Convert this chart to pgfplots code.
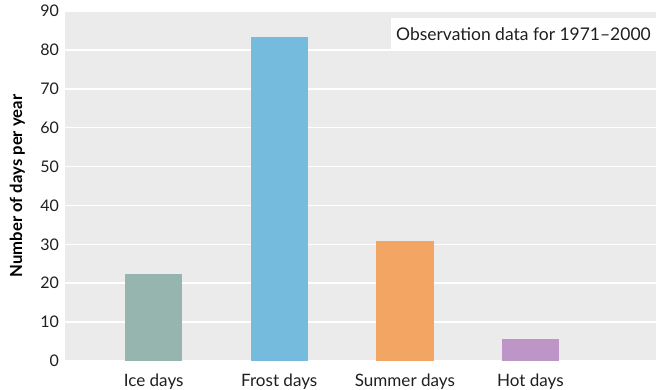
\documentclass[border=0pt]{standalone}
\usepackage{pgfplots}
\pgfplotsset{compat=1.18}
\usepackage{fontspec}
\setmainfont{Lato}
\definecolor{bgray}{HTML}{EBEBEB}
\definecolor{iceC}{HTML}{97B5AF}
\definecolor{frostC}{HTML}{74BBDD}
\definecolor{summerC}{HTML}{F3A663}
\definecolor{hotC}{HTML}{BD95C7}
\begin{document}
\begin{tikzpicture}
\begin{axis}[
  name=ax,
  scale only axis,
  width=443.25pt, height=262.5pt,
  xmin=-0.706, xmax=4.0,
  ymin=0, ymax=90,
  ytick={0,10,...,90},
  xtick={0,1,2,3},
  xticklabels={Ice days, Frost days, Summer days, Hot days},
  axis background/.style={fill=bgray},
  axis line style={draw=none},
  tick style={draw=none},
  ymajorgrids,
  grid style={white, line width=1.1pt},
  /pgf/number format/assume math mode=true,
  yticklabel style={font=\fontsize{12}{14}\selectfont, text=black!88, xshift=-1pt},
  xticklabel style={font=\fontsize{12.8}{15}\selectfont, text=black!88, yshift=-2pt},
  bar width=43pt,
  ybar, bar shift=0pt,
]
\addplot[draw=none, fill=iceC] coordinates {(0,22.3)};
\addplot[draw=none, fill=frostC] coordinates {(1,83.2)};
\addplot[draw=none, fill=summerC] coordinates {(2,30.8)};
\addplot[draw=none, fill=hotC] coordinates {(3,5.65)};
\node[fill=white, anchor=north east, inner xsep=3.75pt, minimum height=24pt,
  font=\fontsize{13.1}{15}\selectfont, text=black!88] at (rel axis cs:1,1) [yshift=-5.25pt] {Observation data for 1971–2000};
\end{axis}
\node[rotate=90, anchor=south, font=\bfseries\fontsize{12.5}{14}\selectfont] at ([xshift=-26.5pt]ax.west) {Number of days per year};
\pgfresetboundingbox
\path ([xshift=-48.75pt, yshift=-21.75pt]ax.south west) rectangle ([yshift=8.25pt]ax.north east);
\end{tikzpicture}
\end{document}
